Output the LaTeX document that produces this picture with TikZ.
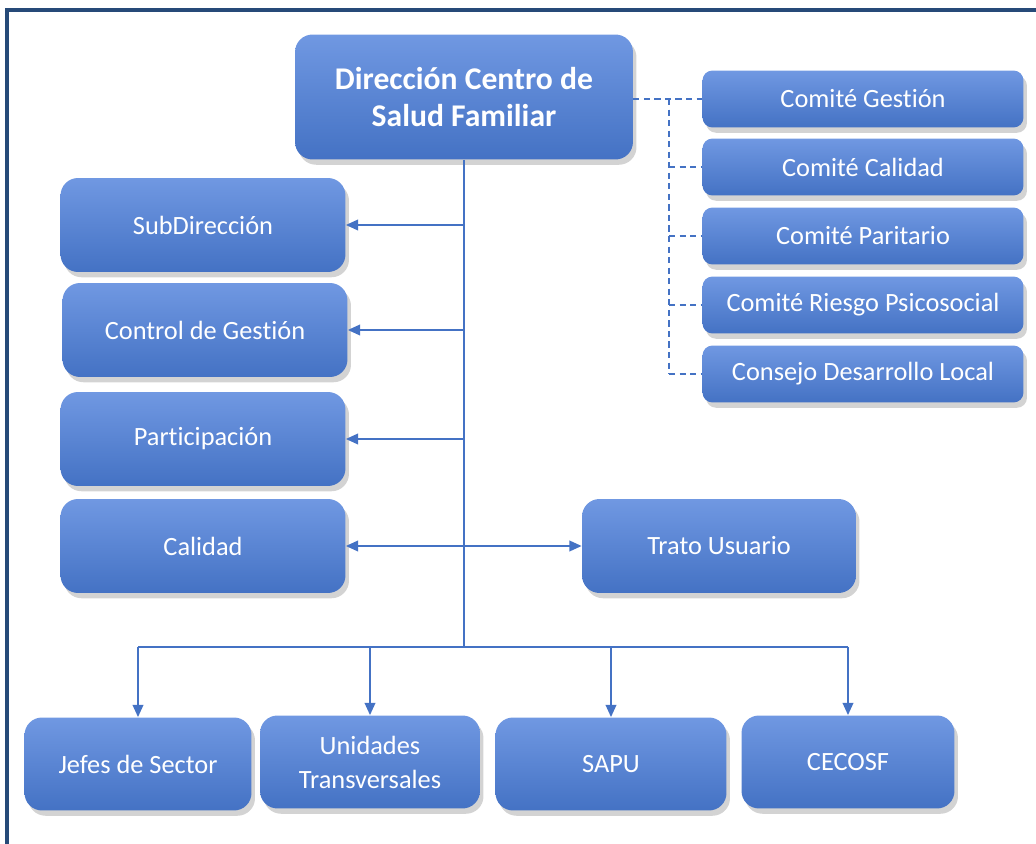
\documentclass[tikz,border=0pt]{standalone}
\usepackage{fontspec}
\setmainfont{Carlito}[Ligatures=NoCommon]
\usetikzlibrary{positioning, arrows.meta, calc, shadows}

\definecolor{boxblue}{RGB}{68,114,196}
\definecolor{boxtop}{RGB}{112,152,226}
\definecolor{linkblue}{RGB}{68,114,196}
\definecolor{framblue}{RGB}{38,74,120}

\tikzset{
  unit/.style={rounded corners=0.35cm, draw=none, top color=boxtop, middle color=boxblue, bottom color=boxblue,
    text=white, font=\fontsize{15}{19.3}\selectfont, align=center,
    drop shadow={opacity=0.35, shadow xshift=2pt, shadow yshift=-3pt}},
  wideunit/.style={unit, minimum width=5.7cm, minimum height=1.88cm},
  comite/.style={unit, rounded corners=0.2cm, minimum width=6.42cm, minimum height=1.14cm},
  lowunit/.style={unit, minimum height=1.86cm},
  link/.style={draw=linkblue, line width=1.2pt},
  arr/.style={link, -{Triangle[length=7pt,width=6pt]}},
  dashlink/.style={draw=linkblue, line width=1.1pt, dash pattern=on 3.5pt off 2.5pt}
}

\begin{document}
\begin{tikzpicture}[x=0.02cm, y=-0.02cm]
    \useasboundingbox (0,0) rectangle (1036,844);

    % Outer frame (top and left edges only)
    \draw[framblue, line width=1.8pt] (7,844) -- (7,10) -- (1036,10);

    % Top unit
    \node[unit, minimum width=6.76cm, minimum height=2.5cm, font=\fontsize{18}{21.5}\selectfont\bfseries]
        (direccion) at (464,97) {Dirección Centro de\\Salud Familiar};

    % Staff units on the left
    \node[wideunit] (subdir)   at (203,225) {SubDirección};
    \node[wideunit] (control)  at (205,330) {Control de Gestión};
    \node[wideunit] (particip) at (203,439) {Participación};
    \node[wideunit] (calidad)  at (203,546) {Calidad};
    \node[unit, minimum width=5.48cm, minimum height=1.88cm] (trato) at (719,546) {Trato Usuario};

    % Committees on the right
    \node[comite] (cgestion)   at (863,99)  {Comité Gestión};
    \node[comite] (ccalidad)   at (863,167) {Comité Calidad};
    \node[comite] (cparitario) at (863,236) {Comité Paritario};
    \node[comite] (criesgo)    at (863,305) {Comité Riesgo Psicosocial};
    \node[comite] (consejo)    at (863,374) {Consejo Desarrollo Local};

    % Line units at the bottom
    \node[lowunit, minimum width=4.54cm] (jefes)    at (138,764) {Jefes de Sector};
    \node[lowunit, minimum width=4.4cm]  (unidades) at (370,762) {Unidades\\Transversales};
    \node[lowunit, minimum width=4.62cm] (sapu)     at (611,764) {SAPU};
    \node[lowunit, minimum width=4.26cm] (cecosf)   at (848,762) {CECOSF};

    % Main trunk and bus
    \coordinate (bus) at (464,647);
    \draw[link, line width=1.7pt] (direccion.south) -- (bus);
    \draw[link] (bus -| jefes) -- (bus -| cecosf);

    % Arrows to staff units
    \draw[arr] (direccion.south |- subdir) -- (subdir.east);
    \draw[arr] (direccion.south |- control) -- (control.east);
    \draw[arr] (direccion.south |- particip) -- (particip.east);
    \draw[arr] (direccion.south |- calidad) -- (calidad.east);
    \draw[arr] (direccion.south |- trato) -- (trato.west);

    % Arrows to line units
    \draw[arr] (bus -| jefes) -- (jefes.north);
    \draw[arr] (bus -| unidades) -- (unidades.north);
    \draw[arr] (bus -| sapu) -- (sapu.north);
    \draw[arr] (bus -| cecosf) -- (cecosf.north);

    % Dashed links to committees
    \coordinate (dashx) at (669,99);
    \draw[dashlink] (direccion.east |- cgestion) -- (cgestion.west);
    \draw[dashlink] (dashx) -- (dashx |- consejo);
    \draw[dashlink] (dashx |- ccalidad) -- (ccalidad.west);
    \draw[dashlink] (dashx |- cparitario) -- (cparitario.west);
    \draw[dashlink] (dashx |- criesgo) -- (criesgo.west);
    \draw[dashlink] (dashx |- consejo) -- (consejo.west);
\end{tikzpicture}
\end{document}
